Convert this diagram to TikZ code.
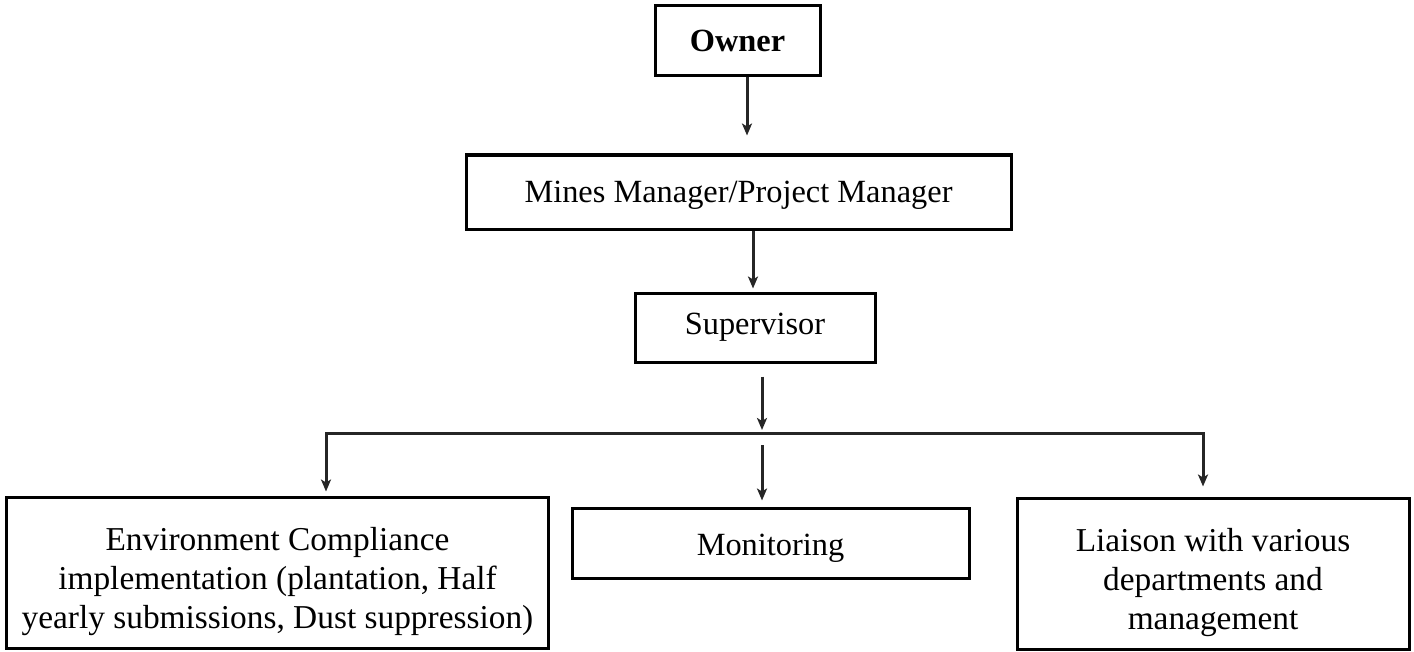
\documentclass[tikz,border=0pt]{standalone}
\usepackage{fontspec}
\setmainfont{Liberation Serif}
\usetikzlibrary{arrows.meta}
\newcommand\pushdn[1]{\rule{0pt}{#1}}
\begin{document}
\begin{tikzpicture}[x=1bp,y=-1bp,
  box/.style={draw=black,line width=3bp,minimum width=#1,inner sep=0pt,align=center,
    font=\fontsize{32.5}{39}\selectfont},
  big/.style={font=\fontsize{33.5}{39}\selectfont},
  arr/.style={draw=black!85,line width=3bp,-{Stealth[length=12bp,width=10bp,inset=3bp]}},
  ln/.style={draw=black!85,line width=3bp}]
\useasboundingbox (0,0) rectangle (1414,652);
\node[box=165bp,minimum height=70bp] (owner) at (737.5,41) {\textbf{Owner}};
\node[box=545bp,minimum height=74bp] (mm) at (738.5,192) {\pushdn{28bp}Mines Manager/Project Manager};
\node[box=240bp,minimum height=69bp] (sup) at (755,327.5) {Supervisor};
\node[box=541bp,minimum height=151bp,big] (env) at (277.5,572.5) {\pushdn{41bp}Environment Compliance\\implementation (plantation, Half\\yearly submissions, Dust suppression)};
\node[box=397bp,minimum height=70bp] (mon) at (770.5,543) {\pushdn{32bp}Monitoring};
\node[box=392bp,minimum height=151bp,big] (lia) at (1213,573.5) {\pushdn{41bp}Liaison with various\\departments and\\management};
\coordinate (x1) at (747,0);
\coordinate (x2) at (753,0);
\coordinate (x3) at (762,0);
\coordinate (xl) at (326,0);
\coordinate (xr) at (1203,0);
\coordinate (bary) at (0,433);
\coordinate (bl) at (xl |- bary);
\coordinate (br) at (xr |- bary);
\draw[arr,shorten >=18bp] (owner.south -| x1) -- (mm.north -| x1);
\draw[arr,shorten >=3bp] (mm.south -| x2) -- (sup.north -| x2);
\draw[arr,shorten <=13bp,shorten >=3bp] (sup.south -| x3) -- (bary -| x3);
\draw[ln,line cap=rect] (bl) -- (br);
\draw[arr,shorten >=4bp] (bl) -- (env.north -| bl);
\draw[arr,shorten <=12bp,shorten >=6bp] (bary -| x3) -- (mon.north -| x3);
\draw[arr,shorten >=10bp] (br) -- (lia.north -| br);
\end{tikzpicture}
\end{document}
